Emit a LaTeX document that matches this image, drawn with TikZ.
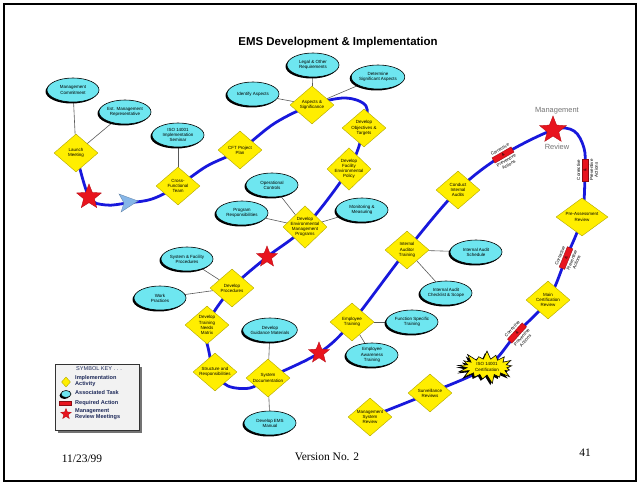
\documentclass[tikz,border=0pt]{standalone}
\usepackage{fontspec}
\setmainfont{Liberation Serif}
\setsansfont{Liberation Sans}
\usetikzlibrary{shapes.geometric,shapes.symbols,shadows,backgrounds}
\definecolor{sun}{HTML}{FFEE00}
\definecolor{aqua}{HTML}{6EE6F0}
\definecolor{road}{HTML}{1818DC}
\definecolor{flag}{HTML}{E8141E}
\definecolor{sky}{HTML}{86B6E8}
\definecolor{slate}{HTML}{1E2A5A}

\begin{document}
\begin{tikzpicture}[x=1bp,y=-1bp,font=\sffamily,
  act/.style={diamond,fill=sun,draw=sun!70!black,line width=.4pt,inner sep=-1.5pt,
    minimum width=44bp,minimum height=38bp,align=center,font=\sffamily\fontsize{4.5}{5.2}\selectfont},
  task/.style={ellipse,fill=aqua,draw=black,line width=.6pt,inner sep=0pt,
    minimum width=52bp,minimum height=24bp,align=center,font=\sffamily\fontsize{4.5}{5.2}\selectfont,
    drop shadow={shadow xshift=-1.5pt,shadow yshift=-1.5pt,fill=black,opacity=1}},
  review/.style={star,star points=5,star point ratio=2.3,fill=flag,draw=flag!80!black,
    inner sep=0pt,minimum size=22bp},
  cpa/.style={rectangle,fill=flag,draw=flag!60!black,line width=.3pt,minimum width=22bp,
    minimum height=6bp,inner sep=0pt,font=\sffamily\fontsize{4}{4.5}\selectfont},
  cpatext/.style={inner sep=1.4pt,align=center,font=\sffamily\fontsize{4.5}{5}\selectfont},
  burst/.style={starburst,starburst points=17,starburst point height=9bp,random starburst=40,
    fill=sun,draw=black,line width=.6pt,inner sep=0pt,minimum width=58bp,minimum height=34bp,
    align=center,font=\sffamily\fontsize{4.5}{5.2}\selectfont,
    drop shadow={shadow xshift=-1.8pt,shadow yshift=-1.8pt,fill=black,opacity=1}},
  link/.style={draw=black!65,line width=.6pt},
  route/.style={road,line width=2.8pt,line cap=round},
  keytext/.style={anchor=west,inner sep=0pt,align=left,text=slate,
    font=\sffamily\bfseries\fontsize{5.6}{6.6}\selectfont},
  foot/.style={font=\rmfamily\fontsize{11.5}{13}\selectfont}]
  \useasboundingbox (0,0) rectangle (640,485);
  \draw[line width=1.5pt] (4,4) rectangle (636,481);
  \node[font=\sffamily\bfseries\fontsize{11.5}{13}\selectfont] (title) at (338,43) {EMS Development \& Implementation};

  % implementation activities
  \node[act] (launch) at (76,153) {Launch\\Meeting};
  \node[act] (cft) at (178,186) {Cross-\\Functional\\Team};
  \node[act] (plan) at (240,150) {CFT Project\\Plan};
  \node[act] (aspects) at (312,105) {Aspects \&\\Significance};
  \node[act] (objectives) at (364,128) {Develop\\Objectives \&\\Targets};
  \node[act] (policy) at (349,169) {Develop\\Facility\\Environmental\\Policy};
  \node[act] (programs) at (305,227) {Develop\\Environmental\\Management\\Programs};
  \node[act] (procedures) at (232,288) {Develop\\Procedures};
  \node[act] (matrix) at (207,325) {Develop\\Training\\Needs\\Matrix};
  \node[act] (structure) at (215,372) {Structure and\\Responsibilities};
  \node[act] (sysdoc) at (268,378) {System\\Documentation};
  \node[act] (emptrain) at (352,322) {Employee\\Training};
  \node[act] (auditor) at (407,250) {Internal\\Auditor\\Training};
  \node[act] (conduct) at (458,190) {Conduct\\Internal\\Audits};
  \node[act,minimum width=52bp] (preassess) at (582,217) {Pre-Assessment\\Review};
  \node[act] (maincert) at (548,300) {Main\\Certification\\Review};
  \node[act] (surveil) at (430,393) {Surveillance\\Reviews};
  \node[act] (msreview) at (370,417) {Management\\System\\Review};
  \node[burst] (isocert) at (487,367) {ISO 14001\\Certification};

  % associated tasks
  \node[task] (commit) at (73,90) {Management\\Commitment};
  \node[task] (rep) at (125,112) {Est. Management\\Representative};
  \node[task] (seminar) at (178,135) {ISO 14001\\Implementation\\Seminar};
  \node[task] (identify) at (253,94) {Identify Aspects};
  \node[task] (legal) at (313,65) {Legal \& Other\\Requirements};
  \node[task] (determine) at (378,77) {Determine\\Significant Aspects};
  \node[task] (opcontrol) at (272,185) {Operational\\Controls};
  \node[task] (progresp) at (242,213) {Program\\Responsibilities};
  \node[task] (monitor) at (362,210) {Monitoring \&\\Measuring};
  \node[task] (sysfac) at (187,259) {System \& Facility\\Procedures};
  \node[task] (practices) at (160,298) {Work\\Practices};
  \node[task] (guidance) at (270,330) {Develop\\Guidance Materials};
  \node[task] (manual) at (270,423) {Develop EMS\\Manual};
  \node[task] (funcspec) at (412,322) {Function Specific\\Training};
  \node[task] (awareness) at (372,355) {Employee\\Awareness\\Training};
  \node[task] (schedule) at (476,252) {Internal Audit\\Schedule};
  \node[task] (checklist) at (446,293) {Internal Audit\\Checklist \& Scope};

  % reviews and required actions
  \node[review,minimum size=26bp] (star1) at (89,197) {};
  \node[review] (star2) at (267,257) {};
  \node[review] (star3) at (319,353) {};
  \node[review,minimum size=28bp] (star4) at (553,130) {};
  \node[text=black!55,font=\sffamily\fontsize{7.5}{8}\selectfont] (mgmtlbl) at (557,111) {Management};
  \node[text=black!55,font=\sffamily\fontsize{7.5}{8}\selectfont] (revlbl) at (557,147) {Review};
  \node[cpa,rotate=30] (cpa1) at (503,155) {\&};
  \node[cpa,rotate=90] (cpa2) at (585,170) {\&};
  \node[cpa,rotate=68] (cpa3) at (566,258) {\&};
  \node[cpa,rotate=48] (cpa4) at (517,333) {\&};
  \foreach \b/\r in {cpa1/30,cpa2/90,cpa3/68,cpa4/48} {
    \node[cpatext,rotate=\r,anchor=south] (\b-up) at (\b.north) {Corrective};
    \node[cpatext,rotate=\r,anchor=north] (\b-dn) at (\b.south) {Preventive\\Actions};
  }
  \coordinate (arr) at (127,203);
  \filldraw[fill=sky,draw=sky!70!black,line width=.3pt,shift={(arr)}] (11,-2) -- (-8,-9) -- (-3,0) -- (-6,9) -- cycle;

  \begin{scope}[on background layer]
    \draw[route] plot[smooth,tension=.55] coordinates {(launch.center) (star1.center) (106,205) (arr)
      (152,199) (cft.center) (207,166) (plan.center) (275,123) (aspects.center) (345,98) (366,106)
      (objectives.center) (policy.center) (programs.center) (star2.center) (procedures.center)
      (matrix.center) (209,352) (structure.center) (228,386) (250,388) (sysdoc.center) (star3.center)
      (emptrain.center) (auditor.center) (conduct.center) (cpa1.center) (star4.center) (574,131)
      (584,148) (cpa2.center) (preassess.center) (cpa3.center) (maincert.center) (cpa4.center)
      (isocert.center) (surveil.center) (msreview.center)};
    \foreach \a/\b in {commit/launch,rep/launch,seminar/cft,identify/aspects,legal/aspects,
      determine/aspects,opcontrol/programs,progresp/programs,monitor/programs,sysfac/procedures,
      practices/procedures,guidance/sysdoc,manual/sysdoc,funcspec/emptrain,awareness/emptrain,
      schedule/auditor,checklist/auditor}
      \draw[link] (\a) -- (\b);
  \end{scope}

  % symbol key
  \fill[black!55] (58,367) rectangle (142,433);
  \draw[fill=black!5,draw=black!80,line width=.5pt] (55,364) rectangle (139,430);
  \node[keytext,font=\sffamily\fontsize{5.6}{6.6}\selectfont] (keyhead) at (76,369) {SYMBOL KEY . . .};
  \node[act,minimum width=9bp,minimum height=10bp] (keyact) at (66,382) {};
  \node[keytext] (keyactlbl) at (75,381) {Implementation\\Activity};
  \node[task,minimum width=10bp,minimum height=7bp] (keytask) at (66,394) {};
  \node[keytext] (keytasklbl) at (75,393) {Associated Task};
  \node[cpa,minimum width=12bp,minimum height=4bp] (keycpa) at (65,403) {};
  \node[keytext] (keycpalbl) at (75,403) {Required Action};
  \node[review,minimum size=11bp] (keystar) at (66,414) {};
  \node[keytext] (keystarlbl) at (75,414) {Management\\Review Meetings};

  \node[foot] (date) at (82,459) {11/23/99};
  \node[foot] (version) at (327,457) {Version No. 2};
  \node[foot] (page) at (585,453) {41};
\end{tikzpicture}
\end{document}
